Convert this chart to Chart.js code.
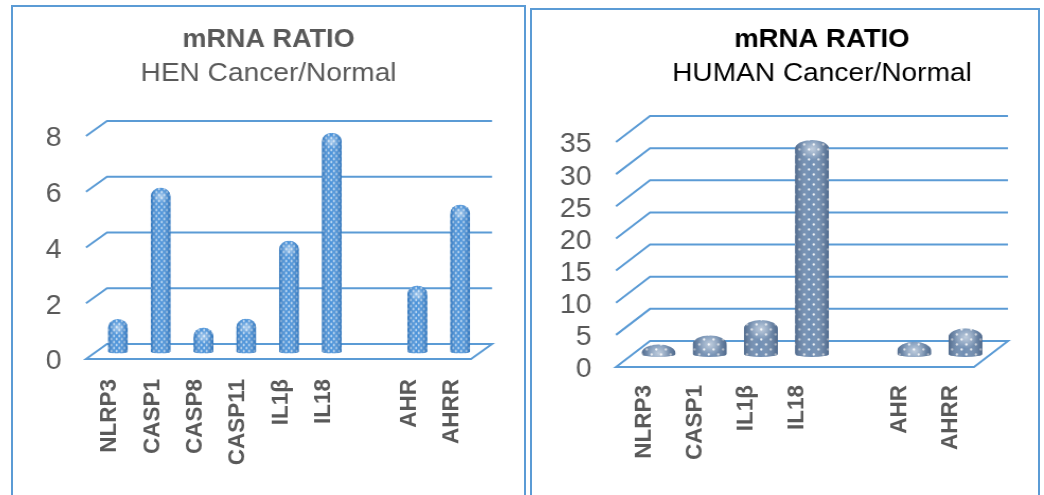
<!DOCTYPE html>
<html>
<head>
<meta charset="utf-8">
<script src="https://cdn.jsdelivr.net/npm/chart.js@4"></script>
<style>
  html, body { margin: 0; padding: 0; background: #fff; overflow: hidden; width: 1044px; height: 495px; }
  .box { position: absolute; border: 2px solid #5b9bd5; border-bottom: none; box-sizing: border-box; height: 500px; }
  #box1 { left: 11px; top: 5px; width: 515px; }
  #box2 { left: 530px; top: 8px; width: 510px; }
  .wrap { position: absolute; top: 0; transform-origin: 0 0; transform: scaleX(1.06); }
  canvas { display: block; }
</style>
</head>
<body>
<div class="box" id="box1"></div>
<div class="box" id="box2"></div>
<div class="wrap" style="left:12px"><canvas id="hen"></canvas></div>
<div class="wrap" style="left:532px"><canvas id="human"></canvas></div>
<script>
// the whole figure is a bit wider than its fonts, so canvases get stretched in x
const stretch = 1.06;

const henLabels = ["NLRP3", "CASP1", "CASP8", "CASP11", "IL1β", "IL18", "", "AHR", "AHRR"];
const henValues = [1.17, 5.88, 0.86, 1.18, 3.98, 7.85, null, 2.37, 5.27];
const humanLabels = ["NLRP3", "CASP1", "IL1β", "IL18", "", "AHR", "AHRR"];
const humanValues = [1.5, 2.9, 5.3, 33.3, null, 1.9, 4.0];

function dotPattern(base, stepX, stepY, r) {
  const c = document.createElement("canvas");
  c.width = stepX;
  c.height = stepY * 2;
  const g = c.getContext("2d");
  g.fillStyle = base;
  g.fillRect(0, 0, c.width, c.height);
  g.fillStyle = "rgba(255,255,255,0.95)";
  [[stepX / 4, stepY / 2], [stepX * 3 / 4, stepY * 1.5]].forEach((p) => {
    g.beginPath();
    g.arc(p[0], p[1], r, 0, Math.PI * 2);
    g.fill();
  });
  return g.createPattern(c, "repeat");
}

// back wall and floor, hung on the y scale ticks
const wall3d = {
  id: "wall3d",
  beforeDatasetsDraw(chart, args, opts) {
    const ctx = chart.ctx;
    const area = chart.chartArea;
    const y = chart.scales.y;
    ctx.save();
    ctx.strokeStyle = "#5b9bd5";
    ctx.lineWidth = 2;
    y.ticks.forEach((t) => {
      const py = y.getPixelForValue(t.value);
      ctx.beginPath();
      ctx.moveTo(area.left, py);
      ctx.lineTo(area.left + opts.dx, py - opts.dy);
      ctx.lineTo(area.right + opts.dx, py - opts.dy);
      if (t.value === 0) {
        ctx.lineTo(area.right, py);
        ctx.closePath();
      }
      ctx.stroke();
    });
    ctx.restore();
  },
};

// cylinders with a dome on top, standing half way into the floor
const cylinders = {
  id: "cylinders",
  beforeDatasetDraw(chart, args, opts) {
    const ctx = chart.ctx;
    const wall = chart.options.plugins.wall3d;
    const values = chart.data.datasets[args.index].data;
    args.meta.data.forEach((bar, i) => {
      if (values[i] === null) return;
      const rx = bar.width / 2;
      const left = bar.x - rx;
      const h = bar.base - bar.y;
      const ry = Math.min(opts.domeY, h);
      ctx.save();
      ctx.translate(wall.dx / 2, -wall.dy / 2);
      ctx.beginPath();
      ctx.moveTo(left, bar.base);
      ctx.lineTo(left, bar.y + ry);
      ctx.ellipse(bar.x, bar.y + ry, rx, ry, 0, Math.PI, Math.PI * 2);
      ctx.lineTo(left + bar.width, bar.base);
      ctx.ellipse(bar.x, bar.base, rx, opts.footY, 0, 0, Math.PI);
      ctx.closePath();
      ctx.clip();
      ctx.fillStyle = bar.options.backgroundColor;
      ctx.fillRect(left, bar.y, bar.width, h + opts.footY);
      const shade = ctx.createLinearGradient(left, 0, left + bar.width, 0);
      shade.addColorStop(0, opts.edge);
      shade.addColorStop(0.45, "rgba(255,255,255,0.05)");
      shade.addColorStop(1, opts.edge);
      ctx.fillStyle = shade;
      ctx.fillRect(left, bar.y, bar.width, h + opts.footY);
      const glow = ctx.createRadialGradient(bar.x, bar.y + ry, 0, bar.x, bar.y + ry, rx * 0.7);
      glow.addColorStop(0, "rgba(255,255,255,0.55)");
      glow.addColorStop(1, "rgba(255,255,255,0)");
      ctx.fillStyle = glow;
      ctx.fillRect(left, bar.y, bar.width, h + opts.footY);
      ctx.restore();
    });
    return false;
  },
};

function drawPanel(id, cfg) {
  const canvas = document.getElementById(id);
  canvas.width = Math.round(cfg.screenWidth / stretch);
  canvas.height = 495;
  const titleTop = 40 - cfg.titleSize * 0.6;
  const titleEnd = titleTop + cfg.titleSize * 1.2;
  const subTop = 74 - cfg.subSize * 0.6 - titleEnd;
  const subEnd = 74 + cfg.subSize * 0.6;
  new Chart(canvas.getContext("2d"), {
    type: "bar",
    data: {
      labels: cfg.labels,
      datasets: [{
        data: cfg.values,
        backgroundColor: cfg.pattern,
        barThickness: cfg.barWidth / stretch,
      }],
    },
    plugins: [wall3d, cylinders],
    options: {
      responsive: false,
      animation: false,
      scales: {
        x: {
          grid: { display: false },
          border: { display: false },
          afterFit: (s) => { s.height = 495 - cfg.areaBottom; },
          ticks: {
            autoSkip: false,
            minRotation: 90,
            maxRotation: 90,
            padding: cfg.labelGap,
            labelOffset: 2,
            color: "#595959",
            font: { family: "'Liberation Sans', Arial", size: 22.5, weight: "bold" },
          },
        },
        y: {
          min: 0,
          max: cfg.max,
          grid: { display: false },
          border: { display: false },
          afterFit: (s) => { s.width = cfg.areaLeft / stretch; },
          ticks: {
            stepSize: cfg.step,
            autoSkip: false,
            padding: 15,
            labelOffset: 3,
            color: "#595959",
            font: { family: "'Liberation Sans', Arial", size: cfg.tickSize },
          },
        },
        // empty axis, keeps the plot short of the canvas edge so the titles stay centred on the canvas
        spare: {
          type: "linear",
          position: "right",
          grid: { display: false },
          border: { display: false },
          ticks: { display: false },
          afterFit: (s) => { s.width = canvas.width - cfg.areaRight / stretch; },
        },
      },
      plugins: {
        legend: { display: false },
        tooltip: { enabled: false },
        title: {
          display: true,
          text: "mRNA RATIO",
          color: cfg.titleColor,
          font: { family: "'Liberation Sans', Arial", size: cfg.titleSize, weight: "bold" },
          padding: { top: titleTop, bottom: 0 },
        },
        subtitle: {
          display: true,
          text: cfg.subtitle,
          color: cfg.titleColor,
          font: { family: "'Liberation Sans', Arial", size: cfg.subSize, weight: "normal" },
          padding: { top: subTop, bottom: cfg.areaTop - subEnd },
        },
        wall3d: { dx: cfg.dx / stretch, dy: cfg.dy },
        cylinders: { domeY: cfg.domeY, footY: cfg.footY, edge: cfg.edge },
      },
    },
  });
}

drawPanel("hen", {
  labels: henLabels,
  values: henValues,
  subtitle: "HEN Cancer/Normal",
  titleColor: "#595959",
  titleSize: 25.5,
  subSize: 26.5,
  tickSize: 27,
  screenWidth: 513,
  areaLeft: 74,
  areaRight: 459,
  areaTop: 136,
  areaBottom: 359,
  labelGap: 12,
  max: 8,
  step: 2,
  barWidth: 20,
  dx: 21,
  dy: 15,
  domeY: 9,
  footY: 2,
  edge: "rgba(25,90,160,0.55)",
  pattern: dotPattern("#3f8cd8", 5, 3, 0.95),
});

drawPanel("human", {
  labels: humanLabels,
  values: humanValues,
  subtitle: "HUMAN Cancer/Normal",
  titleColor: "#000000",
  titleSize: 26,
  subSize: 26.5,
  tickSize: 27,
  screenWidth: 580,
  areaLeft: 84,
  areaRight: 442,
  areaTop: 142,
  areaBottom: 367,
  labelGap: 10,
  max: 35,
  step: 5,
  barWidth: 34,
  dx: 34,
  dy: 26,
  domeY: 9,
  footY: 3,
  edge: "rgba(50,70,100,0.5)",
  pattern: dotPattern("#6888af", 9, 5, 1.15),
});
</script>
</body>
</html>
